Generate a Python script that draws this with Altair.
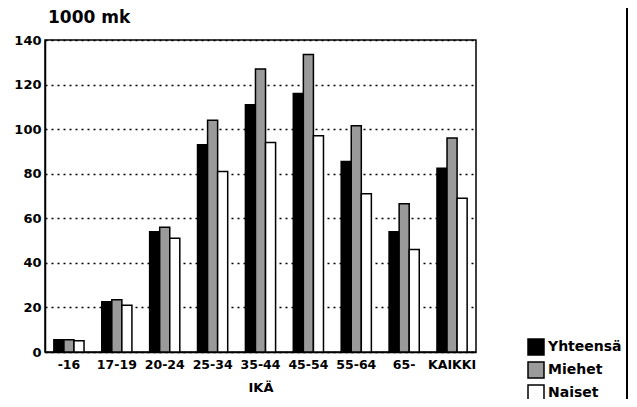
import altair as alt
import pandas as pd

ages = ["-16", "17-19", "20-24", "25-34", "35-44", "45-54", "55-64", "65-", "KAIKKI"]
yhteensa = [5.5, 22.5, 54, 93, 111, 116, 85.5, 54, 82.5]
miehet = [5.5, 23.5, 56, 104, 127, 133.5, 101.5, 66.5, 96]
naiset = [5, 21, 51, 81, 94, 97, 71, 46, 69]
series = ["Yhteensä", "Miehet", "Naiset"]
colors = ["#000000", "#9a9a9a", "#ffffff"]
y_ticks = [0, 20, 40, 60, 80, 100, 120, 140]
title_text = ["1000 mk"]

rows = []
for i, a in enumerate(ages):
    for s, vals in zip(series, [yhteensa, miehet, naiset]):
        rows.append({"ikä": a, "sarja": s, "arvo": vals[i]})
df = pd.DataFrame(rows)

FONT = "DejaVu Sans"

bars = alt.Chart(df).mark_bar(stroke="black", strokeWidth=1.5).encode(
    x=alt.X("ikä:N", sort=ages,
            scale=alt.Scale(paddingInner=0.37, paddingOuter=0.185),
            axis=alt.Axis(title="IKÄ", labelAngle=0, ticks=False, labelPadding=6,
                          labelFont=FONT, labelFontSize=12.5, labelFontWeight="bold",
                          labelColor="black", titleFont=FONT, titleFontSize=13,
                          titleFontWeight="bold", titleColor="black", titlePadding=11,
                          domainColor="black", domainWidth=1.5)),
    xOffset=alt.XOffset("sarja:N", sort=series,
                        scale=alt.Scale(domain=series, paddingInner=0, paddingOuter=0)),
    y=alt.Y("arvo:Q", scale=alt.Scale(domain=[0, 140], nice=False),
            axis=alt.Axis(title=None, values=y_ticks, ticks=False, labelPadding=4,
                          labelFont=FONT, labelFontSize=13, labelFontWeight="bold",
                          labelColor="black", domainColor="black", domainWidth=1.5,
                          grid=True, gridColor="black", gridDash=[2, 4], gridWidth=1.5,
                          gridOpacity=1)),
    fill=alt.Fill("sarja:N", sort=series,
                  scale=alt.Scale(domain=series, range=colors),
                  legend=alt.Legend(title=None, orient="none", legendX=482, legendY=298,
                                    symbolType="square", symbolSize=256,
                                    symbolStrokeColor="black", symbolStrokeWidth=1.5,
                                    symbolOpacity=1, labelFont=FONT, labelFontSize=14,
                                    labelFontWeight="bold", labelColor="black",
                                    rowPadding=1, labelOffset=3)),
)

border = alt.Chart(df).mark_rule(color="black", strokeWidth=2).encode(
    x=alt.value(582), y=alt.value(-32), y2=alt.value(359)
)

title = alt.Chart(pd.DataFrame({"t": title_text})).mark_text(
    align="left", baseline="middle", font=FONT, fontSize=17, fontWeight="bold", color="black"
).encode(x=alt.value(3), y=alt.value(-22), text="t:N")

chart = alt.layer(bars, border, title).properties(
    width=431, height=312,
    autosize=alt.AutoSizeParams(type="none"),
    padding={"left": 37, "top": 32, "right": 153, "bottom": 47},
).configure_view(stroke="black", strokeWidth=1.5)

chart.save("out.html", embed_options={"renderer": "svg", "actions": False})
